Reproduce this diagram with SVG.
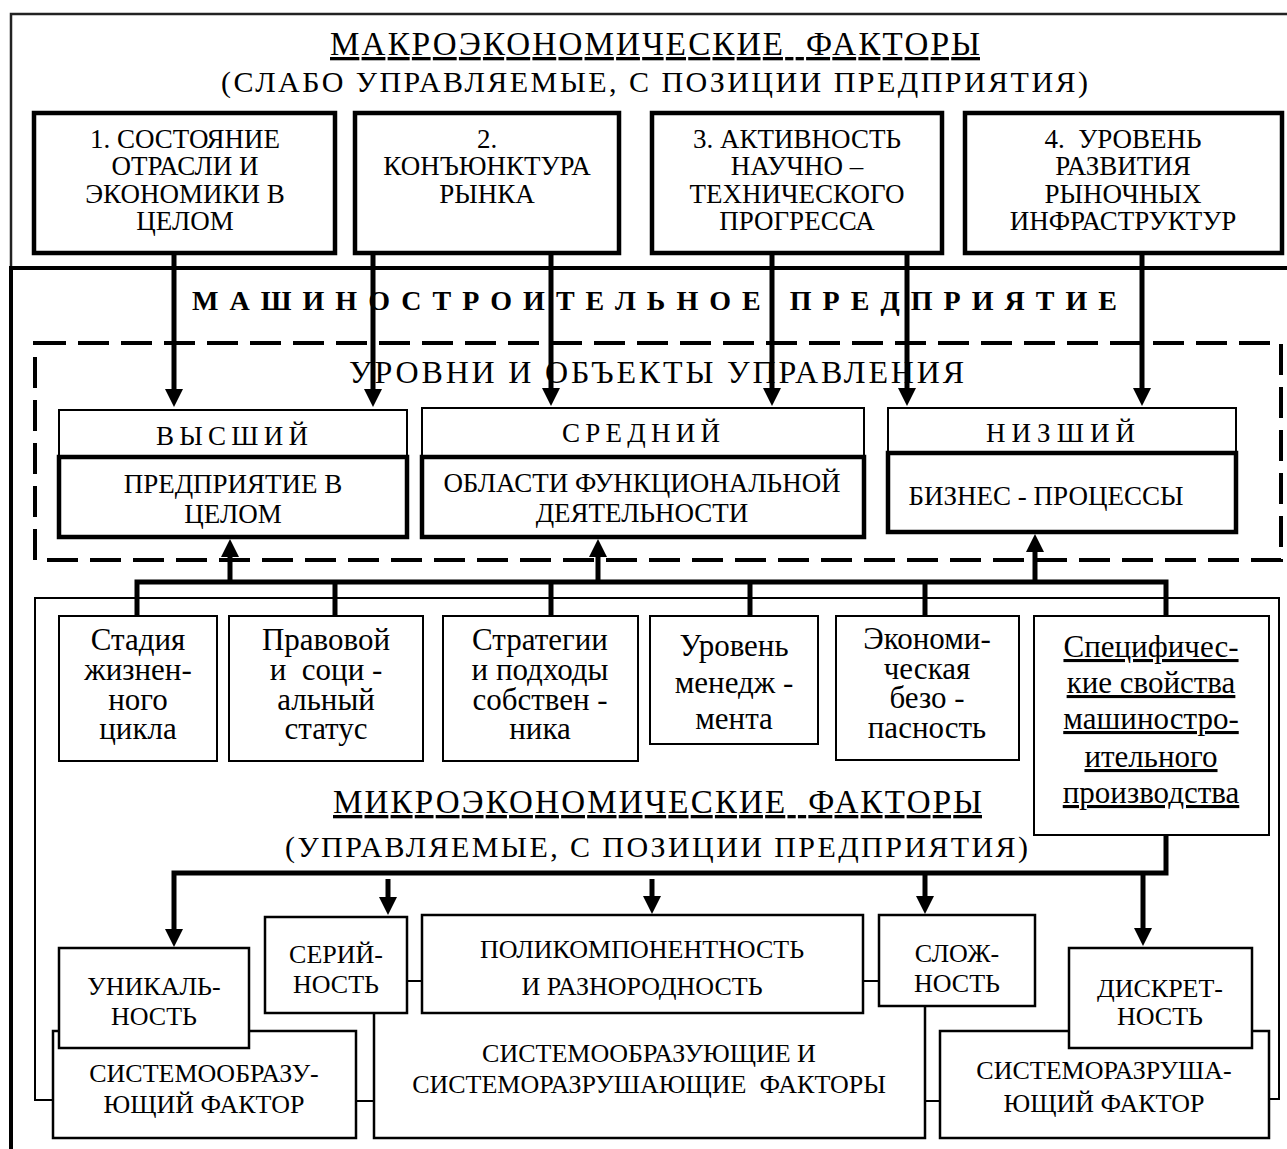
<svg xmlns="http://www.w3.org/2000/svg" width="1287" height="1149" viewBox="0 0 1287 1149">
<style>
.t{font-family:"Liberation Serif","Times New Roman",serif;fill:#000;white-space:pre}
.m{text-anchor:middle}
.f26{font-size:26px}
.f27{font-size:27px}
.f31{font-size:31px}
.thick{fill:#fff;stroke:#000;stroke-width:4.5}
.thin{fill:#fff;stroke:#000;stroke-width:2}
.mid{fill:#fff;stroke:#000;stroke-width:2.5}
.bus{fill:none;stroke:#000;stroke-width:5}
.arr{fill:none;stroke:#000;stroke-width:5;marker-end:url(#ah)}
.ln{fill:none;stroke:#000;stroke-width:2}
.u{text-decoration:underline}
</style>
<defs>
<marker id="ah" markerUnits="userSpaceOnUse" markerWidth="18" markerHeight="18" viewBox="0 0 18 18" refX="2" refY="9" orient="auto"><path d="M0,0 L18,9 L0,18 Z" fill="#000"/></marker>
</defs>
<rect width="1287" height="1149" fill="#fff"/>

<g id="frames">
<path d="M1287,14 H11 V268" fill="none" stroke="#222" stroke-width="2.5"/>
<path d="M1287,268 H11 V1149" fill="none" stroke="#000" stroke-width="4"/>
<rect x="35" y="343" width="1246" height="217" fill="none" stroke="#000" stroke-width="4" stroke-dasharray="31 12"/>
<path d="M53,1100 H35 V598 H1279 V1099 H1269" class="ln"/>
</g>

<g id="titles">
<text class="t u" x="330" y="55" font-size="33" textLength="650" lengthAdjust="spacing">МАКРОЭКОНОМИЧЕСКИЕ  ФАКТОРЫ</text>
<text class="t" x="221" y="92" font-size="30" textLength="867" lengthAdjust="spacing">(СЛАБО УПРАВЛЯЕМЫЕ, С ПОЗИЦИИ ПРЕДПРИЯТИЯ)</text>
<text class="t" x="192" y="310" font-size="28" font-weight="bold" textLength="925" lengthAdjust="spacing">МАШИНОСТРОИТЕЛЬНОЕ ПРЕДПРИЯТИЕ</text>
<text class="t" x="349" y="383" font-size="32" textLength="615" lengthAdjust="spacing">УРОВНИ И ОБЪЕКТЫ УПРАВЛЕНИЯ</text>
<text class="t u" x="333" y="813" font-size="33" textLength="649" lengthAdjust="spacing">МИКРОЭКОНОМИЧЕСКИЕ  ФАКТОРЫ</text>
<text class="t" x="285" y="857" font-size="30" textLength="743" lengthAdjust="spacing">(УПРАВЛЯЕМЫЕ, С ПОЗИЦИИ ПРЕДПРИЯТИЯ)</text>
</g>

<g id="macro1">
<rect class="thick" x="34" y="113" width="301" height="140"/>
<text class="t m f27" x="185" y="148">1. СОСТОЯНИЕ</text>
<text class="t m f27" x="185" y="175">ОТРАСЛИ И</text>
<text class="t m f27" x="185" y="203">ЭКОНОМИКИ В</text>
<text class="t m f27" x="185" y="230">ЦЕЛОМ</text>
</g>
<g id="macro2">
<rect class="thick" x="355" y="113" width="264" height="140"/>
<text class="t m f27" x="487" y="148">2.</text>
<text class="t m f27" x="487" y="175">КОНЪЮНКТУРА</text>
<text class="t m f27" x="487" y="203">РЫНКА</text>
</g>
<g id="macro3">
<rect class="thick" x="652" y="113" width="290" height="140"/>
<text class="t m f27" x="797" y="148">3. АКТИВНОСТЬ</text>
<text class="t m f27" x="797" y="175">НАУЧНО –</text>
<text class="t m f27" x="797" y="203">ТЕХНИЧЕСКОГО</text>
<text class="t m f27" x="797" y="230">ПРОГРЕССА</text>
</g>
<g id="macro4">
<rect class="thick" x="965" y="113" width="317" height="140"/>
<text class="t m f27" x="1123" y="148">4.  УРОВЕНЬ</text>
<text class="t m f27" x="1123" y="175">РАЗВИТИЯ</text>
<text class="t m f27" x="1123" y="203">РЫНОЧНЫХ</text>
<text class="t m f27" x="1123" y="230">ИНФРАСТРУКТУР</text>
</g>

<g id="level-high">
<rect class="thin" x="59" y="410" width="348" height="47"/>
<rect class="thick" x="59" y="457" width="348" height="80"/>
<text class="t" x="156" y="445" font-size="27" textLength="152" lengthAdjust="spacing">ВЫСШИЙ</text>
<text class="t m f27" x="233" y="493">ПРЕДПРИЯТИЕ В</text>
<text class="t m f27" x="233" y="523">ЦЕЛОМ</text>
</g>
<g id="level-mid">
<rect class="thin" x="422" y="408" width="442" height="49"/>
<rect class="thick" x="422" y="457" width="442" height="80"/>
<text class="t" x="562" y="442" font-size="27" textLength="158" lengthAdjust="spacing">СРЕДНИЙ</text>
<text class="t m f27" x="642" y="492">ОБЛАСТИ ФУНКЦИОНАЛЬНОЙ</text>
<text class="t m f27" x="642" y="522">ДЕЯТЕЛЬНОСТИ</text>
</g>
<g id="level-low">
<rect class="thin" x="888" y="408" width="348" height="45"/>
<rect class="thick" x="888" y="453" width="348" height="79"/>
<text class="t" x="986" y="442" font-size="27" textLength="149" lengthAdjust="spacing">НИЗШИЙ</text>
<text class="t m f27" x="1046" y="505">БИЗНЕС - ПРОЦЕССЫ</text>
</g>

<g id="factor1">
<rect class="thin" x="59" y="616" width="158" height="145"/>
<text class="t m f31" x="138" y="650">Стадия</text>
<text class="t m f31" x="138" y="680">жизнен-</text>
<text class="t m f31" x="138" y="710">ного</text>
<text class="t m f31" x="138" y="739">цикла</text>
</g>
<g id="factor2">
<rect class="thin" x="229" y="616" width="194" height="145"/>
<text class="t m f31" x="326" y="650">Правовой</text>
<text class="t m f31" x="326" y="680">и  соци -</text>
<text class="t m f31" x="326" y="710">альный</text>
<text class="t m f31" x="326" y="739">статус</text>
</g>
<g id="factor3">
<rect class="thin" x="443" y="616" width="195" height="145"/>
<text class="t m f31" x="540" y="650">Стратегии</text>
<text class="t m f31" x="540" y="680">и подходы</text>
<text class="t m f31" x="540" y="710">собствен -</text>
<text class="t m f31" x="540" y="739">ника</text>
</g>
<g id="factor4">
<rect class="thin" x="650" y="616" width="168" height="128"/>
<text class="t m f31" x="734" y="656">Уровень</text>
<text class="t m f31" x="734" y="693">менедж -</text>
<text class="t m f31" x="734" y="729">мента</text>
</g>
<g id="factor5">
<rect class="thin" x="836" y="616" width="183" height="144"/>
<text class="t m f31" x="927" y="649">Экономи-</text>
<text class="t m f31" x="927" y="679">ческая</text>
<text class="t m f31" x="927" y="708">безо -</text>
<text class="t m f31" x="927" y="738">пасность</text>
</g>
<g id="factor6">
<rect class="thin" x="1034" y="616" width="235" height="219"/>
<text class="t m f31 u" x="1151" y="657">Специфичес-</text>
<text class="t m f31 u" x="1151" y="693">кие свойства</text>
<text class="t m f31 u" x="1151" y="729">машиностро-</text>
<text class="t m f31 u" x="1151" y="767">ительного</text>
<text class="t m f31 u" x="1151" y="803">производства</text>
</g>

<g id="system-all">
<path d="M374,1013 V1138 H925 V1006" class="mid"/>
<text class="t m f26" x="649" y="1062">СИСТЕМООБРАЗУЮЩИЕ И</text>
<text class="t m f26" x="649" y="1093">СИСТЕМОРАЗРУШАЮЩИЕ  ФАКТОРЫ</text>
</g>
<g id="system-forming">
<rect class="mid" x="53" y="1031" width="303" height="107"/>
<text class="t m f26" x="204" y="1082">СИСТЕМООБРАЗУ-</text>
<text class="t m f26" x="204" y="1113">ЮЩИЙ ФАКТОР</text>
</g>
<g id="system-destroying">
<rect class="mid" x="940" y="1031" width="329" height="107"/>
<text class="t m f26" x="1104" y="1079">СИСТЕМОРАЗРУША-</text>
<text class="t m f26" x="1104" y="1112">ЮЩИЙ ФАКТОР</text>
</g>
<g id="unique">
<rect class="mid" x="59" y="948" width="190" height="100"/>
<text class="t m f26" x="154" y="995">УНИКАЛЬ-</text>
<text class="t m f26" x="154" y="1025">НОСТЬ</text>
</g>
<g id="serial">
<rect class="mid" x="265" y="917" width="142" height="96"/>
<text class="t m f26" x="336" y="963">СЕРИЙ-</text>
<text class="t m f26" x="336" y="993">НОСТЬ</text>
</g>
<g id="poly">
<rect class="mid" x="422" y="915" width="441" height="98"/>
<text class="t m f26" x="642" y="958">ПОЛИКОМПОНЕНТНОСТЬ</text>
<text class="t m f26" x="642" y="995">И РАЗНОРОДНОСТЬ</text>
</g>
<g id="complex">
<rect class="mid" x="879" y="915" width="156" height="91"/>
<text class="t m f26" x="957" y="962">СЛОЖ-</text>
<text class="t m f26" x="957" y="992">НОСТЬ</text>
</g>
<g id="discrete">
<rect class="mid" x="1069" y="948" width="183" height="100"/>
<text class="t m f26" x="1160" y="997">ДИСКРЕТ-</text>
<text class="t m f26" x="1160" y="1025">НОСТЬ</text>
</g>

<g id="connectors">
<path class="arr" d="M174,254 V391"/>
<path class="arr" d="M373,251 V391"/>
<path class="arr" d="M551,254 V390"/>
<path class="arr" d="M772,254 V390"/>
<path class="arr" d="M907,251 V390"/>
<path class="arr" d="M1142,254 V390"/>
<path class="bus" d="M137,616 V582 H1166 V616"/>
<path class="bus" d="M335,582 V616 M551,582 V616 M750,582 V616 M925,582 V616"/>
<path class="arr" d="M230,582 V555"/>
<path class="arr" d="M598,582 V555"/>
<path class="arr" d="M1035,582 V550"/>
<path class="arr" d="M1166,835 V873 H174 V931"/>
<path class="arr" d="M388,879 V899"/>
<path class="arr" d="M652,879 V898"/>
<path class="arr" d="M925,873 V898"/>
<path class="arr" d="M1143,873 V930"/>
<path class="ln" d="M407,981 H422 M863,981 H879 M356,1101 H374 M925,1101 H940"/>
</g>
</svg>
